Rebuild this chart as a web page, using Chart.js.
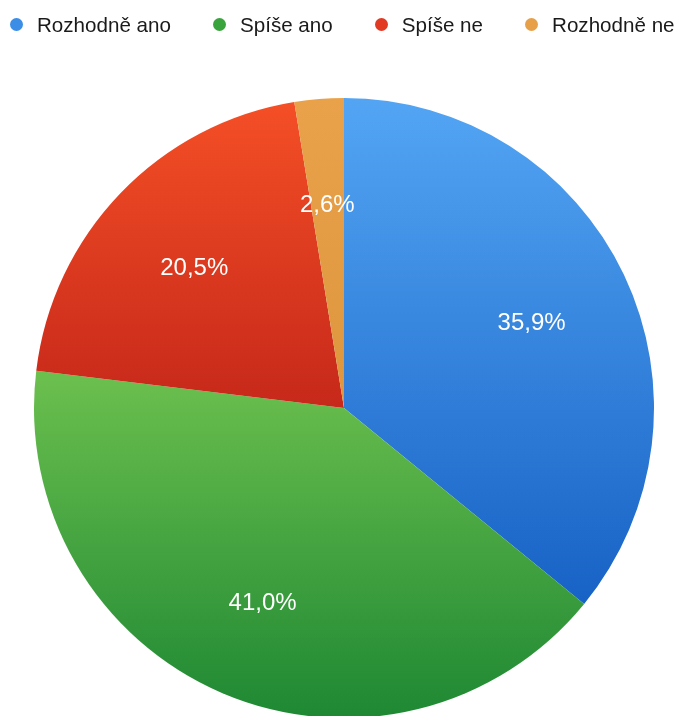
<!DOCTYPE html>
<html>
<head>
<meta charset="utf-8">
<script src="https://cdn.jsdelivr.net/npm/chart.js@4/dist/chart.umd.min.js"></script>
<style>
  html, body { margin: 0; padding: 0; background: #fff; overflow: hidden; }
  #wrap { position: relative; width: 679px; height: 716px; overflow: hidden; }
  #legend {
    position: absolute; left: 10px; top: 14px; display: flex; white-space: nowrap;
    font-family: "Liberation Sans", Arial, Helvetica, sans-serif; font-size: 20.6px;
    line-height: 21px; color: #1a1a1a;
  }
  .item { display: flex; align-items: center; margin-right: 42px; }
  .dot { width: 13px; height: 13px; border-radius: 50%; margin-right: 14px; }
  #box { position: absolute; left: 0; top: 0; width: 679px; height: 730px; }
</style>
</head>
<body>
<div id="wrap">
  <div id="box"><canvas id="pie"></canvas></div>
  <div id="legend"></div>
</div>
<script>
// answers (counts)
const labels = ["Rozhodně ano", "Spíše ano", "Spíše ne", "Rozhodně ne"];
const counts = [14, 16, 8, 1];
// top / bottom colour of each slice
const topColors = ["#53a5f4", "#6cc04e", "#f44f26", "#e9a24a"];
const bottomColors = ["#1762c5", "#1e8833", "#c6281a", "#dd963d"];
const dotColors = ["#3b8de6", "#3aa43c", "#e23a22", "#e8a048"];

// legend
const legend = document.getElementById("legend");
labels.forEach(function (l, i) {
  const it = document.createElement("div");
  it.className = "item";
  it.innerHTML = '<span class="dot" style="background:' + dotColors[i] + '"></span>' + l;
  legend.appendChild(it);
});

const total = counts.reduce((a, b) => a + b, 0);

// vertical extent of a slice, used for its gradient
function sliceSpan(i, cy, r) {
  let before = 0;
  for (let k = 0; k < i; k++) before += counts[k];
  const a0 = -Math.PI / 2 + before / total * Math.PI * 2;
  const a1 = a0 + counts[i] / total * Math.PI * 2;
  let min = cy, max = cy;
  for (let s = 0; s <= 60; s++) {
    const y = cy + Math.sin(a0 + (a1 - a0) * s / 60) * r;
    min = Math.min(min, y);
    max = Math.max(max, y);
  }
  return [min, max];
}

const valueLabels = {
  id: "valueLabels",
  afterDatasetsDraw(chart) {
    const c = chart.ctx;
    const meta = chart.getDatasetMeta(0);
    c.save();
    c.font = "24px 'Liberation Sans', Arial, sans-serif";
    c.fillStyle = "#ffffff";
    c.textAlign = "center";
    c.textBaseline = "middle";
    meta.data.forEach(function (arc, i) {
      const p = arc.getProps(["x", "y", "startAngle", "endAngle", "outerRadius"], true);
      const mid = (p.startAngle + p.endAngle) / 2;
      const r = p.outerRadius * 0.67;
      const txt = (counts[i] / total * 100).toFixed(1).replace(".", ",") + "%";
      c.fillText(txt, p.x + Math.cos(mid) * r, p.y + Math.sin(mid) * r + 4);
    });
    c.restore();
  }
};

new Chart(document.getElementById("pie"), {
  type: "pie",
  data: {
    labels: labels,
    datasets: [{
      data: counts,
      borderWidth: 0,
      hoverOffset: 0,
      backgroundColor: function (ctx) {
        const chart = ctx.chart;
        const area = chart.chartArea;
        const i = ctx.dataIndex;
        if (!area) return topColors[i];
        const cy = (area.top + area.bottom) / 2;
        const span = sliceSpan(i, cy, 310);
        const g = chart.ctx.createLinearGradient(0, span[0], 0, span[1]);
        g.addColorStop(0, topColors[i]);
        g.addColorStop(1, bottomColors[i]);
        return g;
      }
    }]
  },
  options: {
    responsive: true,
    maintainAspectRatio: false,
    animation: false,
    events: [],
    radius: 310,
    layout: { padding: { left: 34, right: 25, top: 98, bottom: 12 } },
    plugins: {
      legend: { display: false },
      tooltip: { enabled: false }
    }
  },
  plugins: [valueLabels]
});
</script>
</body>
</html>
